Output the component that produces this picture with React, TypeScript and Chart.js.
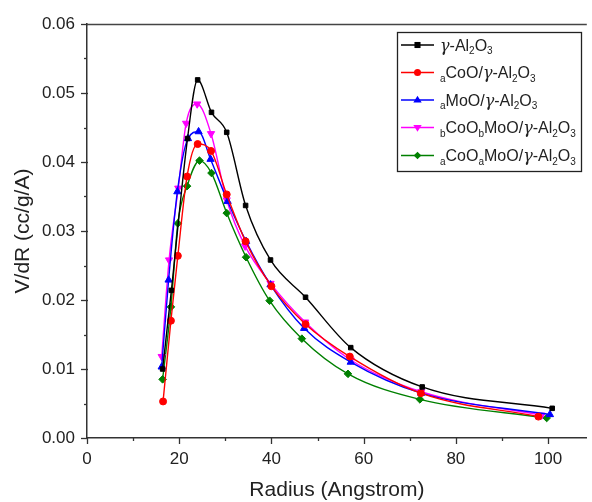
import React, { useEffect, useRef } from 'react';
import { Chart, registerables } from 'chart.js';

Chart.register(...registerables);

// ---- data ----
const xAl2O3 = [16.4, 18.3, 21.8, 24.0, 27.0, 30.3, 34.4, 39.8, 47.4, 57.2, 72.7, 100.9];
const yAl2O3 = [0.0100, 0.0214, 0.0434, 0.0519, 0.0472, 0.0443, 0.0337, 0.0258, 0.0204, 0.0131, 0.0074, 0.0043];

const xCoO = [16.5, 18.2, 19.7, 21.7, 24.0, 26.9, 30.3, 34.4, 40.0, 47.4, 57.0, 72.4, 97.9];
const yCoO = [0.0053, 0.0170, 0.0264, 0.0379, 0.0426, 0.0416, 0.0353, 0.0285, 0.0220, 0.0165, 0.0118, 0.0065, 0.0031];

const xMoO = [16.2, 17.7, 19.6, 21.9, 24.2, 26.8, 30.5, 34.5, 39.8, 47.1, 57.2, 72.5, 100.4];
const yMoO = [0.0103, 0.0229, 0.0357, 0.0434, 0.0444, 0.0404, 0.0343, 0.0285, 0.0222, 0.0159, 0.0110, 0.0065, 0.0034];

const xCoMoB = [16.2, 17.8, 19.8, 21.5, 23.9, 26.9, 30.3, 34.3, 39.8, 47.3, 57.2, 72.5, 98.6];
const yCoMoB = [0.0118, 0.0258, 0.0362, 0.0456, 0.0484, 0.0441, 0.0345, 0.0278, 0.0224, 0.0168, 0.0113, 0.0067, 0.0033];

const xCoMoA = [16.4, 18.2, 19.7, 21.7, 24.4, 27.0, 30.3, 34.5, 39.6, 46.6, 56.6, 72.2, 99.7];
const yCoMoA = [0.0085, 0.0190, 0.0311, 0.0365, 0.0402, 0.0384, 0.0326, 0.0262, 0.0199, 0.0144, 0.0093, 0.0056, 0.0029];

// legend labels: "_x" marks a subscript character
const seriesNames = [
  'γ-Al_2O_3',
  '_aCoO/γ-Al_2O_3',
  '_aMoO/γ-Al_2O_3',
  '_bCoO_bMoO/γ-Al_2O_3',
  '_aCoO_aMoO/γ-Al_2O_3',
];
const seriesColors = ['#000000', '#ff0000', '#0000ff', '#ff00ff', '#008000'];
const seriesMarkers = ['rect', 'circle', 'triangle', 'triangle', 'rectRot'];
const seriesRotation = [0, 0, 0, 180, 0];
const seriesRadius = [3.2, 3.5, 4.2, 4.2, 3.8];

const xTickValues = [0, 20, 40, 60, 80, 100];
const yTickValues = [0, 0.01, 0.02, 0.03, 0.04, 0.05, 0.06];

const xTitle = 'Radius (Angstrom)';
const yTitle = 'V/dR (cc/g/A)';

const FONT = '"Liberation Sans", Arial, sans-serif';
const TEXT = '#222222';
const AXIS = '#333333';

function pts(xs: number[], ys: number[]) {
  return xs.map((x, i) => ({ x, y: ys[i] }));
}

function parseLabel(s: string) {
  const segs: { t: string; sub: boolean; it: boolean }[] = [];
  for (let i = 0; i < s.length; i++) {
    const c = s[i];
    if (c === '_' && i + 1 < s.length) {
      segs.push({ t: s[i + 1], sub: true, it: false });
      i++;
    } else {
      segs.push({ t: c, sub: false, it: c === 'γ' });
    }
  }
  return segs;
}

function marker(ctx: CanvasRenderingContext2D, style: string, r: number, rot: number, x: number, y: number) {
  ctx.save();
  ctx.translate(x, y);
  ctx.rotate((rot * Math.PI) / 180);
  ctx.beginPath();
  if (style === 'rect') {
    ctx.rect(-r * 0.95, -r * 0.95, r * 1.9, r * 1.9);
  } else if (style === 'circle') {
    ctx.arc(0, 0, r, 0, Math.PI * 2);
  } else if (style === 'triangle') {
    ctx.moveTo(0, -r);
    ctx.lineTo(r * 0.866 * 1.15, r * 0.6);
    ctx.lineTo(-r * 0.866 * 1.15, r * 0.6);
    ctx.closePath();
  } else {
    ctx.moveTo(0, -r);
    ctx.lineTo(r, 0);
    ctx.lineTo(0, r);
    ctx.lineTo(-r, 0);
    ctx.closePath();
  }
  ctx.fill();
  ctx.restore();
}

const axisPlugin = {
  id: 'axisExtras',
  afterDraw(chart: any) {
    const { ctx, scales, chartArea } = chart;
    const x = scales.x;
    const y = scales.y;
    ctx.save();
    ctx.strokeStyle = AXIS;
    ctx.lineWidth = 1.3;
    // x ticks
    for (let v = 0; v <= 105; v += 10) {
      const px = Math.round(x.getPixelForValue(v)) + 0.5;
      const len = v % 20 === 0 ? 6 : 3;
      ctx.beginPath();
      ctx.moveTo(px, chartArea.bottom - (v % 20 === 0 ? 1 : 0));
      ctx.lineTo(px, chartArea.bottom + len);
      ctx.stroke();
    }
    // y ticks
    for (let k = 0; k <= 12; k++) {
      const v = k * 0.005;
      const py = Math.round(y.getPixelForValue(v)) + 0.5;
      const len = k % 2 === 0 ? 6 : 3;
      ctx.beginPath();
      ctx.moveTo(chartArea.left - len, py);
      ctx.lineTo(chartArea.left + (k % 2 === 0 ? 1 : 0), py);
      ctx.stroke();
    }
    // top frame line
    ctx.lineWidth = 1.6;
    ctx.strokeStyle = '#444444';
    ctx.beginPath();
    ctx.moveTo(chartArea.left, chartArea.top + 0.5);
    ctx.lineTo(chartArea.right, chartArea.top + 0.5);
    ctx.stroke();

    // legend
    const bx = 397.5, by = 32.5, bw = 184, bh = 139;
    ctx.fillStyle = '#ffffff';
    ctx.fillRect(bx, by, bw, bh);
    ctx.strokeStyle = '#222222';
    ctx.lineWidth = 1.3;
    ctx.strokeRect(bx, by, bw, bh);
    const rows = [45, 72.5, 100, 127.5, 155.5];
    chart.data.datasets.forEach((ds: any, i: number) => {
      const cy = rows[i];
      ctx.strokeStyle = ds.borderColor;
      ctx.lineWidth = 1.5;
      ctx.beginPath();
      ctx.moveTo(401, cy);
      ctx.lineTo(434, cy);
      ctx.stroke();
      ctx.fillStyle = ds.borderColor;
      marker(ctx, seriesMarkers[i], seriesRadius[i], seriesRotation[i], 417.5, cy);
      // text
      let tx = 440;
      const segs = parseLabel(seriesNames[i]);
      ctx.fillStyle = TEXT;
      ctx.textBaseline = 'alphabetic';
      ctx.textAlign = 'left';
      for (const s of segs) {
        if (s.sub) {
          ctx.font = `10px ${FONT}`;
          ctx.fillText(s.t, tx, cy + 9);
        } else if (s.it) {
          ctx.font = `italic 16px "DejaVu Serif", serif`;
          ctx.fillText(s.t, tx, cy + 5.5);
        } else {
          ctx.font = `16px ${FONT}`;
          ctx.fillText(s.t, tx, cy + 5.5);
        }
        tx += ctx.measureText(s.t).width;
      }
    });
    ctx.restore();
  },
};

export default function App() {
  const ref = useRef<HTMLCanvasElement>(null);
  useEffect(() => {
    document.body.style.margin = '0';
    const xsList = [xAl2O3, xCoO, xMoO, xCoMoB, xCoMoA];
    const ysList = [yAl2O3, yCoO, yMoO, yCoMoB, yCoMoA];
    const datasets = xsList.map((xs, i) => ({
      label: seriesNames[i],
      data: pts(xs, ysList[i]),
      borderColor: seriesColors[i],
      backgroundColor: seriesColors[i],
      borderWidth: 1.4,
      pointStyle: seriesMarkers[i],
      pointRotation: seriesRotation[i],
      pointRadius: seriesRadius[i],
      pointBorderWidth: 1,
      cubicInterpolationMode: 'monotone' as const,
      fill: false,
    }));
    const chart = new Chart(ref.current!, {
      type: 'scatter',
      data: { datasets },
      plugins: [axisPlugin],
      options: {
        animation: false,
        responsive: false,
        showLine: true,
        layout: { padding: { top: 24, right: 0, left: 0, bottom: 0 } },
        plugins: { legend: { display: false }, tooltip: { enabled: false } },
        scales: {
          x: {
            type: 'linear',
            min: 0,
            max: 108.4,
            afterFit: (s: any) => { s.height = 64; },
            afterBuildTicks: (s: any) => { s.ticks = xTickValues.map((v) => ({ value: v })); },
            grid: { display: false, drawTicks: false },
            border: { display: true, color: AXIS, width: 1.5 },
            ticks: {
              padding: 11,
              color: TEXT,
              font: { family: FONT, size: 17 },
              maxRotation: 0,
              callback: (v: any) => String(v),
            },
            title: {
              display: true,
              text: xTitle,
              color: TEXT,
              font: { family: FONT, size: 21, lineHeight: 1 },
              padding: { top: 0, bottom: 1 },
            },
          },
          y: {
            type: 'linear',
            min: 0,
            max: 0.06,
            afterFit: (s: any) => { s.width = 87; },
            afterBuildTicks: (s: any) => { s.ticks = yTickValues.map((v) => ({ value: v })); },
            grid: { display: false, drawTicks: false },
            border: { display: true, color: AXIS, width: 1.5 },
            ticks: {
              padding: 12,
              color: TEXT,
              font: { family: FONT, size: 17 },
              callback: (v: any) => Number(v).toFixed(2),
            },
            title: {
              display: true,
              text: yTitle,
              color: TEXT,
              font: { family: FONT, size: 21, lineHeight: 1 },
              padding: { top: 13, bottom: 0 },
            },
          },
        },
      } as any,
    });
    return () => chart.destroy();
  }, []);
  return (
    <div style={{ position: 'absolute', left: 0, top: 0, width: 592, height: 502 }}>
      <canvas ref={ref} width={592} height={502} />
    </div>
  );
}
